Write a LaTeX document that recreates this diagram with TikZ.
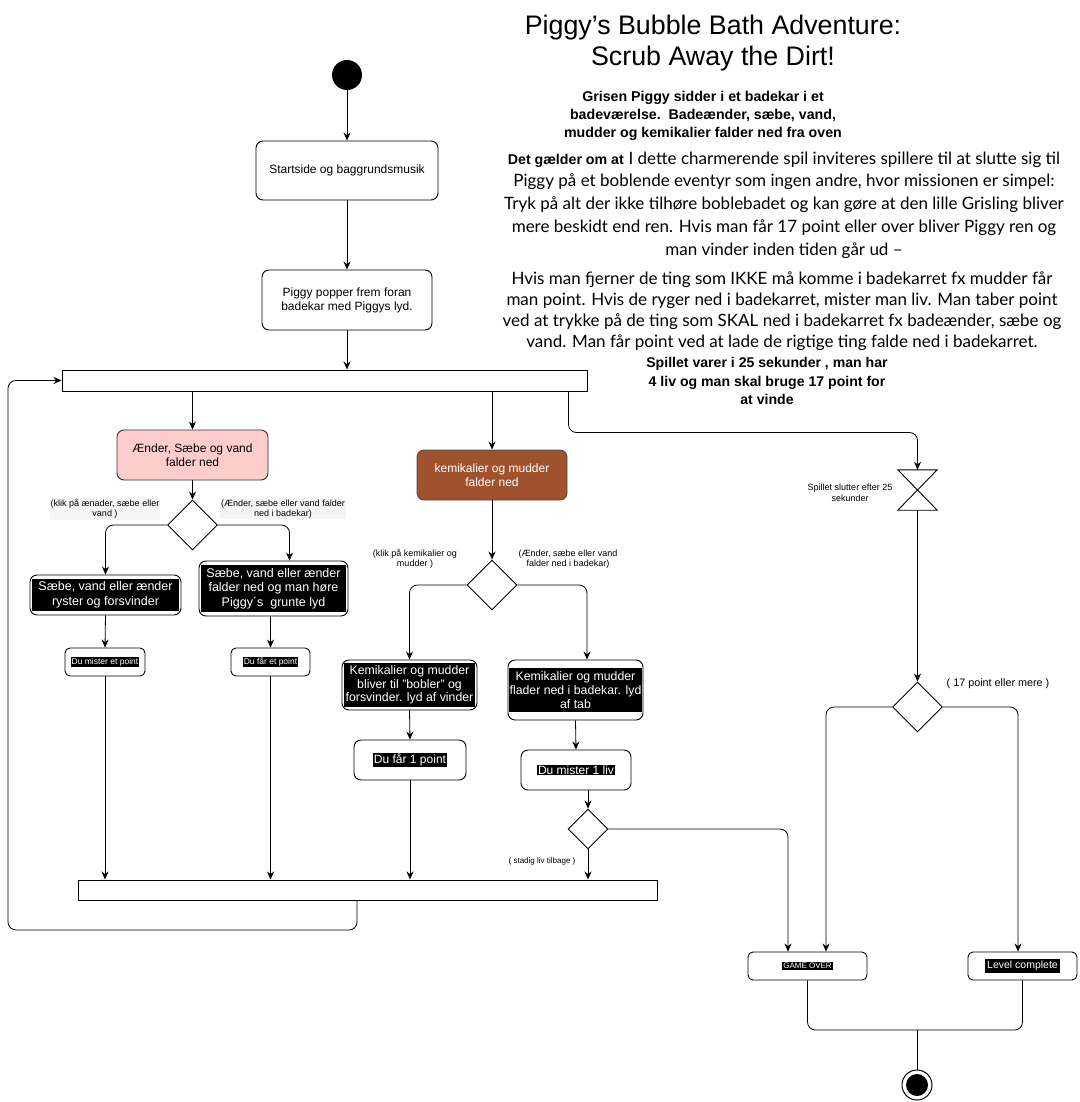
\documentclass[tikz,border=0pt]{standalone}
\usepackage{fontspec}
\setmainfont{Liberation Sans}
\newfontfamily\parafont{Lato}
\usetikzlibrary{arrows.meta,shapes.geometric,calc}
\definecolor{pinkfill}{HTML}{FFCCCC}
\definecolor{brownfill}{HTML}{A0522D}
\begin{document}
\begin{tikzpicture}[x=1pt,y=-1pt,
  every node/.style={font=\fontsize{12}{14}\selectfont},
  box/.style={draw, rounded corners=7, fill=white, line width=0.9pt, align=center, inner sep=0pt},
  blk/.style={fill=black, text=white, align=center, inner sep=1pt},
  bar/.style={draw, line width=1pt, fill=white, inner sep=0pt},
  dia/.style={draw, diamond, line width=0.9pt, inner sep=0pt, aspect=1},
  arr/.style={-{Stealth[length=8pt,width=7pt]}, line width=0.8pt, rounded corners=8},
  ln/.style={line width=0.8pt, rounded corners=8},
  lbl/.style={font=\fontsize{9}{10.5}\selectfont, align=center, inner sep=1pt},
]
\useasboundingbox (0,0) rectangle (1079,1102);

% ---------- texts top right
\node[align=center, font=\fontsize{26.8}{31.5}\selectfont] (title) at (713,43)
  {Piggy's Bubble Bath Adventure:\\Scrub Away the Dirt!};
\node[align=center, font=\bfseries\fontsize{14.2}{18.2}\selectfont] (sub) at (703,116)
  {Grisen Piggy sidder i et badekar i et\\badeværelse.\ \ Badeænder, sæbe, vand,\\mudder og kemikalier falder ned fra oven};
\node[align=center, font=\fontsize{17}{22.8}\selectfont] (para1) at (784,205)
  {{\bfseries\fontsize{14.2}{22.8}\selectfont Det gælder om at} {\parafont I dette charmerende spil inviteres spillere til at slutte sig til}\\
   \parafont Piggy på et boblende eventyr som ingen andre, hvor missionen er simpel:\\
   \parafont Tryk på alt der ikke tilhøre boblebadet og kan gøre at den lille Grisling bliver\\
   \parafont mere beskidt end ren. Hvis man får 17 point eller over bliver Piggy ren og\\
   \parafont man vinder inden tiden går ud –};
\node[align=center, font=\parafont\fontsize{17}{20.8}\selectfont] (para2) at (782,311)
  {Hvis man fjerner de ting som IKKE må komme i badekarret fx mudder får\\
   man point. Hvis de ryger ned i badekarret, mister man liv. Man taber point\\
   ved at trykke på de ting som SKAL ned i badekarret fx badeænder, sæbe og\\
   vand. Man får point ved at lade de rigtige ting falde ned i badekarret.};
\node[align=center, font=\bfseries\fontsize{14.1}{18.5}\selectfont] (para3) at (767,381)
  {Spillet varer i 25 sekunder , man har\\4 liv og man skal bruge 17 point for\\at vinde};

% ---------- main flow
\node[circle, fill=black, minimum size=30, inner sep=0pt] (start) at (347,75) {};
\node[box, minimum width=182, minimum height=59] (s1) at (347,170.5) {Startside og baggrundsmusik};
\node[box, minimum width=170, minimum height=60] (p1) at (347,300) {Piggy popper frem foran\\badekar med Piggys lyd.};
\node[bar, minimum width=525, minimum height=21] (bar1) at (324.5,380.5) {};

\draw[arr] (start.south) -- (s1.north);
\draw[arr] (s1.south) -- (p1.north);
\draw[arr] (p1.south) -- (p1.south |- bar1.north);

% ---------- left branch
\node[box, fill=pinkfill, draw=black!80, minimum width=151, minimum height=50] (pink) at (192.5,455) {Ænder, Sæbe og vand\\falder ned};
\node[dia, minimum width=50, minimum height=50] (d1) at (192.5,525) {};
\node[lbl, fill=gray!8] (l1) at (105,509) {(klik på ænader, sæbe eller\\vand )};
\node[lbl, fill=gray!8] (l2) at (283,509) {(Ænder, sæbe eller vand falder\\ned i badekar)};

\node[box, minimum width=151, minimum height=40] (lb) at (105.5,595) {};
\node[blk, minimum width=147, minimum height=32, font=\fontsize{12.5}{15}\selectfont] (lbt) at (lb.center) {Sæbe, vand eller ænder\\ryster og forsvinder};
\node[box, minimum width=149, minimum height=55] (rb) at (273.5,588.5) {};
\node[blk, minimum width=145, minimum height=47, font=\fontsize{12.5}{14.5}\selectfont] (rbt) at (rb.center) {Sæbe, vand eller ænder\\falder ned og man høre\\Piggy´s\ \ grunte lyd};

\node[box, minimum width=80, minimum height=28, rounded corners=5] (sm) at (105,662) {};
\node[blk, font=\fontsize{8.5}{9.5}\selectfont] (smt) at (sm.center) {Du mister et point};
\node[box, minimum width=79, minimum height=28, rounded corners=5] (sf) at (270.5,662) {};
\node[blk, font=\fontsize{8.5}{9.5}\selectfont] (sft) at (sf.center) {Du får et point};

\draw[arr] (pink.north |- bar1.south) -- (pink.north);
\draw[arr] (pink.south) -- (d1.north);
\draw[arr] (d1.west) -| (lb.north);
\draw[arr] (d1.east) -| ([xshift=16pt]rb.north);
\draw[arr] (lb.south) -- (sm.north);
\draw[arr] (sf.north |- rb.south) -- (sf.north);

% ---------- middle branch
\node[box, fill=brownfill, draw=black!70, text=white, minimum width=150, minimum height=50] (brown) at (492,475) {kemikalier og mudder\\falder ned};
\node[dia, minimum width=50, minimum height=50] (d2) at (492,585) {};
\node[lbl] (l3) at (415,559) {(klik på kemikalier og\\mudder )};
\node[lbl] (l4) at (568,559) {(Ænder, sæbe eller vand\\falder ned i badekar)};

\node[box, minimum width=135, minimum height=50] (ml) at (409.5,685) {};
\node[blk, minimum width=131, minimum height=44, font=\fontsize{12.3}{13.8}\selectfont] (mlt) at (ml.center) {Kemikalier og mudder\\bliver til "bobler" og\\forsvinder. lyd af vinder};
\node[box, minimum width=135, minimum height=60] (mr) at (575.5,690) {};
\node[blk, minimum width=131, minimum height=44, font=\fontsize{12.3}{13.8}\selectfont] (mrt) at (mr.center) {Kemikalier og mudder\\flader ned i badekar. lyd\\af tab};

\node[box, minimum width=112, minimum height=40] (f1) at (410,760) {};
\node[blk, font=\fontsize{12}{14}\selectfont] (f1t) at (f1.center) {Du får 1 point};
\node[box, minimum width=110, minimum height=40] (m1l) at (576,770) {};
\node[blk, font=\fontsize{12}{14}\selectfont] (m1lt) at (m1l.center) {Du mister 1 liv};
\node[dia, minimum width=40, minimum height=40] (d3) at (588,829) {};
\node[lbl, font=\fontsize{8}{9}\selectfont] (l7) at (542,861) {( stadig liv tilbage )};

\draw[arr] (brown.north |- bar1.south) -- (brown.north);
\draw[arr] (brown.south) -- (d2.north);
\draw[arr] (d2.west) -| (ml.north);
\draw[arr] (d2.east) -| ([xshift=11.5pt]mr.north);
\draw[arr] (ml.south) -- (f1.north);
\draw[arr] (mr.south) -- (m1l.north);
\draw[arr] (d3.north |- m1l.south) -- (d3.north);

% ---------- bottom bar and loop
\node[bar, minimum width=579, minimum height=20] (bar2) at (367.5,890) {};
\coordinate (lp) at (8,930);
\draw[arr] (sm.south) -- (sm.south |- bar2.north);
\draw[arr] (sf.south) -- (sf.south |- bar2.north);
\draw[arr] (f1.south) -- (f1.south |- bar2.north);
\draw[arr] (d3.south) -- (d3.south |- bar2.north);
\draw[arr] ([xshift=-10.5pt]bar2.south) |- (lp) |- (bar1.west);

% ---------- right branch
\node[minimum width=39, minimum height=40, inner sep=0pt] (hg) at (917.5,490) {};
\draw[line width=0.9pt, line join=miter] (hg.north west) -- (hg.north east) -- (hg.south west) -- (hg.south east) -- cycle;
\node[lbl] (l5) at (850,493) {Spillet slutter efter 25\\sekunder};
\node[dia, minimum width=50, minimum height=50] (d4) at (917.5,707) {};
\node[lbl, font=\fontsize{10.8}{12}\selectfont] (l6) at (998,684) {( 17 point eller mere )};

\node[box, minimum width=119, minimum height=28, rounded corners=5] (go) at (807.5,966) {};
\node[blk, font=\fontsize{8}{9}\selectfont] (got) at (go.center) {GAME OVER};
\node[box, minimum width=109, minimum height=28, rounded corners=5] (lc) at (1022.5,966) {};
\node[blk, font=\fontsize{10.5}{12}\selectfont, inner sep=2pt] (lct) at (lc.center) {Level complete};

\node[circle, draw, line width=1pt, minimum size=30, inner sep=0pt] (endo) at (917,1085) {};
\node[circle, fill=black, minimum size=22, inner sep=0pt] (endi) at (917,1085) {};
\coordinate (join) at (917,1030);

\draw[arr] ([xshift=-19pt]bar1.south east) -- ++(0,41) -| (hg.north);
\draw[arr] (hg.south) -- (d4.north);
\draw[arr] (d4.west) -| ([xshift=18.5pt]go.north);
\draw[arr] (d4.east) -| ([xshift=-4.5pt]lc.north);
\draw[arr] (d3.east) -| ([xshift=-19.5pt]go.north);
\draw[ln] (go.south) |- (join) -| (lc.south);
\draw[ln] (join) -- (endo.north);
\end{tikzpicture}
\end{document}
